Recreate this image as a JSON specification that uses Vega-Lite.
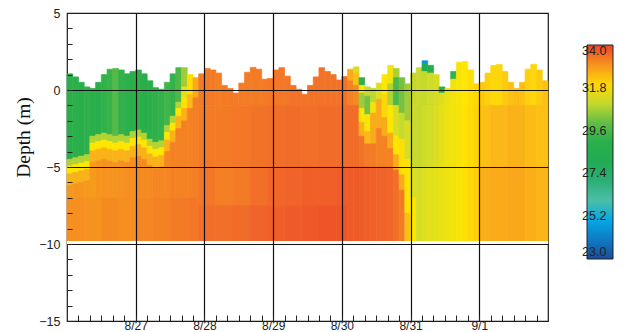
{
"$schema":"https://vega.github.io/schema/vega-lite/v6.json",
"width":481,"height":308,
"autosize":{"type":"none"},
"padding":{"left":67,"top":13,"right":79,"bottom":11},
"background":"white",
"config":{"view":{"stroke":"#1a1a1a","strokeWidth":1.2},"font":"Liberation Sans"},
"data":{"values":[
{"a":0,"b":2,"y":1.05,"z":-4.5,"v":29},{"a":0,"b":2,"y":-4.5,"z":-4.95,"v":30.8},{"a":0,"b":2,"y":-4.95,"z":-5.45,"v":31.8},{"a":0,"b":2,"y":-5.45,"z":-6.2,"v":32.5},{"a":0,"b":2,"y":-6.2,"z":-7,"v":32.9},
{"a":2,"b":4,"y":0.85,"z":-4.4,"v":29.1},{"a":2,"b":4,"y":-4.4,"z":-4.85,"v":30.8},{"a":2,"b":4,"y":-4.85,"z":-5.35,"v":31.8},{"a":2,"b":4,"y":-5.35,"z":-6.1,"v":32.5},{"a":2,"b":4,"y":-6.1,"z":-7,"v":32.95},
{"a":4,"b":6,"y":0.5,"z":-4.3,"v":28.9},{"a":4,"b":6,"y":-4.3,"z":-4.75,"v":30.8},{"a":4,"b":6,"y":-4.75,"z":-5.25,"v":31.8},{"a":4,"b":6,"y":-5.25,"z":-6,"v":32.5},{"a":4,"b":6,"y":-6,"z":-7,"v":32.95},
{"a":6,"b":8,"y":0.2,"z":-4.2,"v":29.2},{"a":6,"b":8,"y":-4.2,"z":-4.65,"v":30.8},{"a":6,"b":8,"y":-4.65,"z":-5.15,"v":31.8},{"a":6,"b":8,"y":-5.15,"z":-5.9,"v":32.5},{"a":6,"b":8,"y":-5.9,"z":-7,"v":32.9},
{"a":8,"b":10,"y":0.1,"z":-3,"v":29},{"a":8,"b":10,"y":-3,"z":-3.45,"v":30.8},{"a":8,"b":10,"y":-3.45,"z":-3.95,"v":31.8},{"a":8,"b":10,"y":-3.95,"z":-4.7,"v":32.5},{"a":8,"b":10,"y":-4.7,"z":-7,"v":32.85},
{"a":10,"b":12,"y":0.5,"z":-2.9,"v":28.9},{"a":10,"b":12,"y":-2.9,"z":-3.35,"v":30.8},{"a":10,"b":12,"y":-3.35,"z":-3.85,"v":31.8},{"a":10,"b":12,"y":-3.85,"z":-4.6,"v":32.5},{"a":10,"b":12,"y":-4.6,"z":-7,"v":32.95},
{"a":12,"b":14,"y":1,"z":-2.8,"v":29.3},{"a":12,"b":14,"y":-2.8,"z":-3.25,"v":30.8},{"a":12,"b":14,"y":-3.25,"z":-3.75,"v":31.8},{"a":12,"b":14,"y":-3.75,"z":-4.5,"v":32.5},{"a":12,"b":14,"y":-4.5,"z":-7,"v":33},
{"a":14,"b":16,"y":1.35,"z":-2.9,"v":29.6},{"a":14,"b":16,"y":-2.9,"z":-3.35,"v":30.8},{"a":14,"b":16,"y":-3.35,"z":-3.85,"v":31.8},{"a":14,"b":16,"y":-3.85,"z":-4.6,"v":32.5},{"a":14,"b":16,"y":-4.6,"z":-7,"v":33},
{"a":16,"b":18,"y":1.4,"z":-3,"v":29.9},{"a":16,"b":18,"y":-3,"z":-3.45,"v":30.8},{"a":16,"b":18,"y":-3.45,"z":-3.95,"v":31.8},{"a":16,"b":18,"y":-3.95,"z":-4.7,"v":32.5},{"a":16,"b":18,"y":-4.7,"z":-7,"v":32.95},
{"a":18,"b":20,"y":1.3,"z":-2.9,"v":29.5},{"a":18,"b":20,"y":-2.9,"z":-3.35,"v":30.8},{"a":18,"b":20,"y":-3.35,"z":-3.85,"v":31.8},{"a":18,"b":20,"y":-3.85,"z":-4.6,"v":32.5},{"a":18,"b":20,"y":-4.6,"z":-7,"v":33},
{"a":20,"b":22,"y":1.05,"z":-3,"v":29.1},{"a":20,"b":22,"y":-3,"z":-3.45,"v":30.8},{"a":20,"b":22,"y":-3.45,"z":-3.95,"v":31.8},{"a":20,"b":22,"y":-3.95,"z":-4.7,"v":32.5},{"a":20,"b":22,"y":-4.7,"z":-7,"v":33.05},
{"a":22,"b":24,"y":1.2,"z":-2.7,"v":29},{"a":22,"b":24,"y":-2.7,"z":-3.15,"v":30.8},{"a":22,"b":24,"y":-3.15,"z":-3.65,"v":31.8},{"a":22,"b":24,"y":-3.65,"z":-4.4,"v":32.5},{"a":22,"b":24,"y":-4.4,"z":-7,"v":33.05},
{"a":24,"b":26,"y":1.3,"z":-2.6,"v":29.3},{"a":24,"b":26,"y":-2.6,"z":-3.05,"v":30.8},{"a":24,"b":26,"y":-3.05,"z":-3.55,"v":31.8},{"a":24,"b":26,"y":-3.55,"z":-4.3,"v":32.5},{"a":24,"b":26,"y":-4.3,"z":-7,"v":33.1},
{"a":26,"b":28,"y":1.05,"z":-2.8,"v":28.9},{"a":26,"b":28,"y":-2.8,"z":-3.25,"v":30.8},{"a":26,"b":28,"y":-3.25,"z":-3.75,"v":31.8},{"a":26,"b":28,"y":-3.75,"z":-4.5,"v":32.5},{"a":26,"b":28,"y":-4.5,"z":-7,"v":33.1},
{"a":28,"b":30,"y":0.6,"z":-3.2,"v":29},{"a":28,"b":30,"y":-3.2,"z":-3.65,"v":30.8},{"a":28,"b":30,"y":-3.65,"z":-4.15,"v":31.8},{"a":28,"b":30,"y":-4.15,"z":-4.9,"v":32.5},{"a":28,"b":30,"y":-4.9,"z":-7,"v":33.1},
{"a":30,"b":32,"y":0.15,"z":-3.4,"v":29.2},{"a":30,"b":32,"y":-3.4,"z":-3.85,"v":30.8},{"a":30,"b":32,"y":-3.85,"z":-4.35,"v":31.8},{"a":30,"b":32,"y":-4.35,"z":-5.1,"v":32.5},{"a":30,"b":32,"y":-5.1,"z":-7,"v":33.15},
{"a":32,"b":34,"y":0.05,"z":-3.3,"v":29.4},{"a":32,"b":34,"y":-3.3,"z":-3.75,"v":30.8},{"a":32,"b":34,"y":-3.75,"z":-4.25,"v":31.8},{"a":32,"b":34,"y":-4.25,"z":-5,"v":32.5},{"a":32,"b":34,"y":-5,"z":-7,"v":33.15},
{"a":34,"b":36,"y":0.5,"z":-2.3,"v":29.7},{"a":34,"b":36,"y":-2.3,"z":-2.75,"v":30.8},{"a":34,"b":36,"y":-2.75,"z":-3.25,"v":31.8},{"a":34,"b":36,"y":-3.25,"z":-4,"v":32.5},{"a":34,"b":36,"y":-4,"z":-7,"v":33.15},
{"a":36,"b":38,"y":1.05,"z":-1.7,"v":29.5},{"a":36,"b":38,"y":-1.7,"z":-2.15,"v":30.8},{"a":36,"b":38,"y":-2.15,"z":-2.65,"v":31.8},{"a":36,"b":38,"y":-2.65,"z":-3.4,"v":32.5},{"a":36,"b":38,"y":-3.4,"z":-7,"v":33.2},
{"a":38,"b":40,"y":1.45,"z":-0.8,"v":29.8},{"a":38,"b":40,"y":-0.8,"z":-1.2,"v":30.8},{"a":38,"b":40,"y":-1.2,"z":-1.7,"v":31.8},{"a":38,"b":40,"y":-1.7,"z":-2.5,"v":32.5},{"a":38,"b":40,"y":-2.5,"z":-7,"v":33.2},
{"a":40,"b":42,"y":1.45,"z":0.2,"v":30.6},{"a":40,"b":42,"y":0.2,"z":-0.5,"v":31.4},{"a":40,"b":42,"y":-0.5,"z":-1.2,"v":31.85},{"a":40,"b":42,"y":-1.2,"z":-2,"v":32.5},{"a":40,"b":42,"y":-2,"z":-7,"v":33.2},
{"a":42,"b":44,"y":1,"z":-0.3,"v":31.9},{"a":42,"b":44,"y":-0.3,"z":-1.2,"v":32.4},{"a":42,"b":44,"y":-1.2,"z":-7,"v":33.2},
{"a":44,"b":46,"y":0.8,"z":-0.5,"v":32.6},{"a":44,"b":46,"y":-0.5,"z":-7,"v":33.25},
{"a":0,"b":6,"y":-7,"z":-10,"v":33.05},{"a":6,"b":12,"y":-7,"z":-10,"v":33},{"a":12,"b":18,"y":-7,"z":-10,"v":33.1},{"a":18,"b":24,"y":-7,"z":-10,"v":33.05},{"a":24,"b":30,"y":-7,"z":-10,"v":33.15},{"a":30,"b":36,"y":-7,"z":-10,"v":33.2},{"a":36,"b":42,"y":-7,"z":-10,"v":33.3},{"a":42,"b":46,"y":-7,"z":-10,"v":33.35},
{"a":46,"b":48,"y":1.05,"z":-1,"v":33.3},{"a":48,"b":50,"y":1.4,"z":-1,"v":33.3},{"a":50,"b":52,"y":1.3,"z":-1,"v":33.3},{"a":52,"b":54,"y":1.1,"z":-1,"v":33.25},{"a":54,"b":56,"y":0.3,"z":-1,"v":33.3},{"a":56,"b":58,"y":0.1,"z":-1,"v":33.3},{"a":58,"b":60,"y":-0.2,"z":-1,"v":33.3},{"a":60,"b":62,"y":0.45,"z":-1,"v":33.3},{"a":62,"b":64,"y":1.15,"z":-1,"v":33.3},{"a":64,"b":66,"y":1.47,"z":-1,"v":33.3},{"a":66,"b":68,"y":1.35,"z":-1,"v":33.3},{"a":68,"b":70,"y":0.7,"z":-1,"v":33.3},{"a":70,"b":72,"y":0.75,"z":-1,"v":33.35},{"a":72,"b":74,"y":1.3,"z":-1,"v":33.35},{"a":74,"b":76,"y":1.45,"z":-1,"v":33.35},{"a":76,"b":78,"y":0.9,"z":-1,"v":33.35},{"a":78,"b":80,"y":0.3,"z":-1,"v":33.4},{"a":80,"b":82,"y":0.05,"z":-1,"v":33.4},{"a":82,"b":84,"y":-0.28,"z":-1,"v":33.4},{"a":84,"b":86,"y":0.3,"z":-1,"v":33.4},{"a":86,"b":88,"y":0.85,"z":-1,"v":33.4},{"a":88,"b":90,"y":1.45,"z":-1,"v":33.4},{"a":90,"b":92,"y":1.2,"z":-1,"v":33.4},{"a":92,"b":94,"y":1,"z":-1,"v":33.4},{"a":94,"b":96,"y":0.65,"z":-1,"v":33.4},{"a":96,"b":98,"y":0.87,"z":-1,"v":33.4},
{"a":46,"b":52,"y":-1,"z":-5,"v":33.3},{"a":46,"b":52,"y":-5,"z":-7.5,"v":33.35},{"a":46,"b":52,"y":-7.5,"z":-10,"v":33.45},
{"a":52,"b":58,"y":-1,"z":-5,"v":33.3},{"a":52,"b":58,"y":-5,"z":-7.5,"v":33.25},{"a":52,"b":58,"y":-7.5,"z":-10,"v":33.45},
{"a":58,"b":64,"y":-1,"z":-5,"v":33.35},{"a":58,"b":64,"y":-5,"z":-7.5,"v":33.3},{"a":58,"b":64,"y":-7.5,"z":-10,"v":33.5},
{"a":64,"b":70,"y":-1,"z":-5,"v":33.4},{"a":64,"b":70,"y":-5,"z":-7.5,"v":33.45},{"a":64,"b":70,"y":-7.5,"z":-10,"v":33.6},
{"a":70,"b":76,"y":-1,"z":-5,"v":33.45},{"a":70,"b":76,"y":-5,"z":-7.5,"v":33.55},{"a":70,"b":76,"y":-7.5,"z":-10,"v":33.65},
{"a":76,"b":82,"y":-1,"z":-5,"v":33.5},{"a":76,"b":82,"y":-5,"z":-7.5,"v":33.6},{"a":76,"b":82,"y":-7.5,"z":-10,"v":33.7},
{"a":82,"b":88,"y":-1,"z":-5,"v":33.45},{"a":82,"b":88,"y":-5,"z":-7.5,"v":33.65},{"a":82,"b":88,"y":-7.5,"z":-10,"v":33.75},
{"a":88,"b":94,"y":-1,"z":-5,"v":33.5},{"a":88,"b":94,"y":-5,"z":-7.5,"v":33.65},{"a":88,"b":94,"y":-7.5,"z":-10,"v":33.8},
{"a":94,"b":98,"y":-1,"z":-5,"v":33.5},{"a":94,"b":98,"y":-5,"z":-7.5,"v":33.7},{"a":94,"b":98,"y":-7.5,"z":-10,"v":33.8},
{"a":98,"b":100,"y":1.35,"z":0.6,"v":32.6},{"a":98,"b":100,"y":0.6,"z":-1,"v":33.2},{"a":98,"b":100,"y":-1,"z":-5,"v":33.5},{"a":98,"b":100,"y":-5,"z":-10,"v":33.7},
{"a":100,"b":102,"y":1.5,"z":1.1,"v":31.2},{"a":100,"b":102,"y":1.1,"z":0.3,"v":32.3},{"a":100,"b":102,"y":0.3,"z":-1,"v":33.1},{"a":100,"b":102,"y":-1,"z":-5,"v":33.5},{"a":100,"b":102,"y":-5,"z":-10,"v":33.7},
{"a":102,"b":104,"y":0.8,"z":0.3,"v":29.3},{"a":102,"b":104,"y":0.3,"z":-0.2,"v":31.8},{"a":102,"b":104,"y":-0.2,"z":-1.2,"v":30.6},{"a":102,"b":104,"y":-1.2,"z":-2.1,"v":31.8},{"a":102,"b":104,"y":-2.1,"z":-3,"v":32.5},{"a":102,"b":104,"y":-3,"z":-5,"v":33.4},{"a":102,"b":104,"y":-5,"z":-10,"v":33.7},
{"a":104,"b":106,"y":0.2,"z":-0.4,"v":31},{"a":104,"b":106,"y":-0.4,"z":-1.6,"v":30.2},{"a":104,"b":106,"y":-1.6,"z":-2.7,"v":31.7},{"a":104,"b":106,"y":-2.7,"z":-3.5,"v":32.4},{"a":104,"b":106,"y":-3.5,"z":-5,"v":33.3},{"a":104,"b":106,"y":-5,"z":-10,"v":33.65},
{"a":106,"b":108,"y":0.1,"z":-0.8,"v":30.9},{"a":106,"b":108,"y":-0.8,"z":-1.5,"v":31.6},{"a":106,"b":108,"y":-1.5,"z":-3.5,"v":32.6},{"a":106,"b":108,"y":-3.5,"z":-5,"v":33.3},{"a":106,"b":108,"y":-5,"z":-10,"v":33.65},
{"a":108,"b":110,"y":0.45,"z":-0.6,"v":31.3},{"a":108,"b":110,"y":-0.6,"z":-2.5,"v":32.6},{"a":108,"b":110,"y":-2.5,"z":-5,"v":33.2},{"a":108,"b":110,"y":-5,"z":-10,"v":33.6},
{"a":110,"b":112,"y":1,"z":-0.3,"v":31.8},{"a":110,"b":112,"y":-0.3,"z":-1.8,"v":32},{"a":110,"b":112,"y":-1.8,"z":-3,"v":32.6},{"a":110,"b":112,"y":-3,"z":-5,"v":33.2},{"a":110,"b":112,"y":-5,"z":-10,"v":33.6},
{"a":112,"b":114,"y":1.6,"z":0.4,"v":31.6},{"a":112,"b":114,"y":0.4,"z":-1,"v":30.8},{"a":112,"b":114,"y":-1,"z":-2.8,"v":31.8},{"a":112,"b":114,"y":-2.8,"z":-3.8,"v":32.6},{"a":112,"b":114,"y":-3.8,"z":-5,"v":33.2},{"a":112,"b":114,"y":-5,"z":-10,"v":33.55},
{"a":114,"b":116,"y":1.4,"z":0.8,"v":30.7},{"a":114,"b":116,"y":0.8,"z":-1,"v":29.8},{"a":114,"b":116,"y":-1,"z":-3,"v":31.2},{"a":114,"b":116,"y":-3,"z":-4.2,"v":31.8},{"a":114,"b":116,"y":-4.2,"z":-5.2,"v":32.6},{"a":114,"b":116,"y":-5.2,"z":-10,"v":33.45},
{"a":116,"b":118,"y":0.8,"z":-1.5,"v":30.2},{"a":116,"b":118,"y":-1.5,"z":-3.2,"v":31},{"a":116,"b":118,"y":-3.2,"z":-5.5,"v":31.9},{"a":116,"b":118,"y":-5.5,"z":-6.5,"v":32.6},{"a":116,"b":118,"y":-6.5,"z":-10,"v":33.3},
{"a":118,"b":120,"y":0.4,"z":-2,"v":30.6},{"a":118,"b":120,"y":-2,"z":-4.5,"v":31.2},{"a":118,"b":120,"y":-4.5,"z":-8,"v":31.85},{"a":118,"b":120,"y":-8,"z":-10,"v":32.3},
{"a":120,"b":122,"y":1.1,"z":-1,"v":31},{"a":120,"b":122,"y":-1,"z":-5,"v":31.05},{"a":120,"b":122,"y":-5,"z":-7,"v":31.3},{"a":120,"b":122,"y":-7,"z":-10,"v":31.8},
{"a":122,"b":124,"y":1.45,"z":-1,"v":31.05},{"a":122,"b":124,"y":-1,"z":-5,"v":31},{"a":122,"b":124,"y":-5,"z":-10,"v":31.15},
{"a":124,"b":126,"y":1.9,"z":1.7,"v":24.6},{"a":124,"b":126,"y":1.7,"z":1.2,"v":28},{"a":124,"b":126,"y":1.2,"z":-1,"v":31},{"a":124,"b":126,"y":-1,"z":-5,"v":31.1},{"a":124,"b":126,"y":-5,"z":-10,"v":31.3},
{"a":126,"b":128,"y":1.6,"z":1.1,"v":28.8},{"a":126,"b":128,"y":1.1,"z":-1,"v":31.1},{"a":126,"b":128,"y":-1,"z":-5,"v":31.15},{"a":126,"b":128,"y":-5,"z":-10,"v":31.35},
{"a":128,"b":130,"y":1,"z":-1,"v":31.2},{"a":128,"b":130,"y":-1,"z":-5,"v":31.25},{"a":128,"b":130,"y":-5,"z":-10,"v":31.4},
{"a":130,"b":132,"y":0.2,"z":-0.2,"v":29},{"a":130,"b":132,"y":-0.2,"z":-1,"v":31.3},{"a":130,"b":132,"y":-1,"z":-5,"v":31.4},{"a":130,"b":132,"y":-5,"z":-10,"v":31.45},
{"a":132,"b":134,"y":0.1,"z":-1,"v":31.5},{"a":132,"b":134,"y":-1,"z":-5,"v":31.55},{"a":132,"b":134,"y":-5,"z":-10,"v":31.55},
{"a":134,"b":136,"y":1.2,"z":0.7,"v":29.5},{"a":134,"b":136,"y":0.7,"z":-1,"v":31.6},{"a":134,"b":136,"y":-1,"z":-5,"v":31.6},{"a":134,"b":136,"y":-5,"z":-10,"v":31.6},
{"a":136,"b":138,"y":1.8,"z":-1,"v":31.7},{"a":136,"b":138,"y":-1,"z":-5,"v":31.65},{"a":136,"b":138,"y":-5,"z":-10,"v":31.7},
{"a":138,"b":140,"y":1.85,"z":-1,"v":31.8},{"a":138,"b":140,"y":-1,"z":-5,"v":31.85},{"a":138,"b":140,"y":-5,"z":-10,"v":31.9},
{"a":140,"b":142,"y":1.3,"z":-1,"v":31.9},{"a":140,"b":142,"y":-1,"z":-5,"v":31.95},{"a":140,"b":142,"y":-5,"z":-10,"v":32},
{"a":142,"b":144,"y":0.4,"z":-1,"v":32},{"a":142,"b":144,"y":-1,"z":-5,"v":32.05},{"a":142,"b":144,"y":-5,"z":-10,"v":32.1},
{"a":144,"b":146,"y":0.5,"z":-1,"v":32.2},{"a":146,"b":148,"y":1.1,"z":-1,"v":32.1},{"a":148,"b":150,"y":1.6,"z":-1,"v":32},{"a":150,"b":152,"y":1.65,"z":-1,"v":32},{"a":152,"b":154,"y":1.2,"z":-1,"v":32.15},{"a":154,"b":156,"y":0.5,"z":-1,"v":32.3},{"a":156,"b":158,"y":0.1,"z":-1,"v":32.35},{"a":158,"b":160,"y":0.5,"z":-1,"v":32.3},{"a":160,"b":162,"y":1.35,"z":-1,"v":32.1},{"a":162,"b":164,"y":1.67,"z":-1,"v":32},{"a":164,"b":166,"y":1.3,"z":-1,"v":32.15},{"a":166,"b":168,"y":0.6,"z":-1,"v":32.3},
{"a":144,"b":148,"y":-1,"z":-5,"v":32.3},{"a":144,"b":148,"y":-5,"z":-10,"v":32.55},
{"a":148,"b":154,"y":-1,"z":-5,"v":32.4},{"a":148,"b":154,"y":-5,"z":-10,"v":32.6},
{"a":154,"b":160,"y":-1,"z":-5,"v":32.5},{"a":154,"b":160,"y":-5,"z":-10,"v":32.65},
{"a":160,"b":164,"y":-1,"z":-5,"v":32.35},{"a":160,"b":164,"y":-5,"z":-10,"v":32.55},
{"a":164,"b":168,"y":-1,"z":-5,"v":32.3},{"a":164,"b":168,"y":-5,"z":-10,"v":32.45}
]},
"layer":[
{"mark":{"type":"rect","strokeWidth":0.7},
"encoding":{
"x":{"field":"a","type":"quantitative","scale":{"domain":[0,168],"nice":false,"zero":false},
"axis":{"values":[4,8,12,16,20,24,28,32,36,40,44,48,52,56,60,64,68,72,76,80,84,88,92,96,100,104,108,112,116,120,124,128,132,136,140,144,148,152,156,160,164],"tickCount":500,
"labelExpr":"datum.value % 24 === 0 ? ['8/26','8/27','8/28','8/29','8/30','8/31','9/1'][datum.value / 24] : ''",
"labelOverlap":false,"labelFlush":false,"labelFontSize":12,"labelColor":"#222","labelPadding":5.5,
"tickSize":-6,"tickColor":"#222","tickWidth":1,"domain":false,"title":null,"zindex":1,
"grid":true,"gridColor":"#111","gridWidth":1.2,"gridOpacity":{"condition":{"test":"datum.value % 24 !== 0","value":0},"value":1}}},
"x2":{"field":"b"},
"y":{"field":"y","type":"quantitative","scale":{"domain":[-15,5],"nice":false,"zero":false},
"axis":{"values":[-15,-14,-13,-12,-11,-10,-9,-8,-7,-6,-5,-4,-3,-2,-1,0,1,2,3,4,5],"tickCount":500,"format":"d",
"labelExpr":"datum.value % 5 === 0 ? datum.label : ''",
"labelOverlap":false,"labelFlush":false,"labelFontSize":12.5,"labelColor":"#222","labelPadding":12,
"tickSize":-5,"tickColor":"#222","tickWidth":1,"domain":false,"zindex":1,
"grid":true,"gridColor":"#111","gridWidth":1.2,"gridOpacity":{"condition":{"test":"datum.value % 5 !== 0 || datum.value === 5 || datum.value === -15","value":0},"value":1},
"title":"Depth (m)","titleFont":"Liberation Serif","titleFontSize":19.5,"titleFontWeight":"normal","titleColor":"#111","titleAngle":-90,"titleX":-38,"titleY":124,"titleAlign":"center","titleBaseline":"alphabetic"}},
"y2":{"field":"z"},
"color":{"field":"v","type":"quantitative",
"scale":{"domain":[23,24.2,25.2,25.25,26.4,27.4,28.6,29.6,30.4,31.1,31.8,32.4,33,33.5,34],"range":["#1c4b9b","#0c84cb","#05b0ec","#63c6bd","#3fb99d","#1fa95c","#22ad4b","#36b34a","#8cc63f","#d0dc2a","#ffe600","#fbb818","#f6921f","#f16b29","#ec4427"],"interpolate":"rgb"},
"legend":{"type":"gradient","orient":"none","legendX":520,"legendY":32,"direction":"vertical","gradientLength":214,"gradientThickness":26,"title":null,"values":[23,25.2,27.4,29.6,31.8,34],"format":".1f","labelAlign":"right","labelOffset":-31,"labelBaseline":"middle","labelFontSize":12.5,"labelColor":"#222","gradientStrokeColor":"#222","gradientStrokeWidth":1,"labelOverlap":false}},
"stroke":{"field":"v","type":"quantitative",
"scale":{"domain":[22.99,24.2,25.2,25.25,26.4,27.4,28.6,29.6,30.4,31.1,31.8,32.4,33,33.5,34.01],"range":["#1c4b9b","#0c84cb","#05b0ec","#63c6bd","#3fb99d","#1fa95c","#22ad4b","#36b34a","#8cc63f","#d0dc2a","#ffe600","#fbb818","#f6921f","#f16b29","#ec4427"],"interpolate":"rgb"},"legend":null}
}},
{"mark":{"type":"rule","color":"white","opacity":0.45,"strokeWidth":2.5},"encoding":{"y":{"datum":-9.88}}}
]
}
